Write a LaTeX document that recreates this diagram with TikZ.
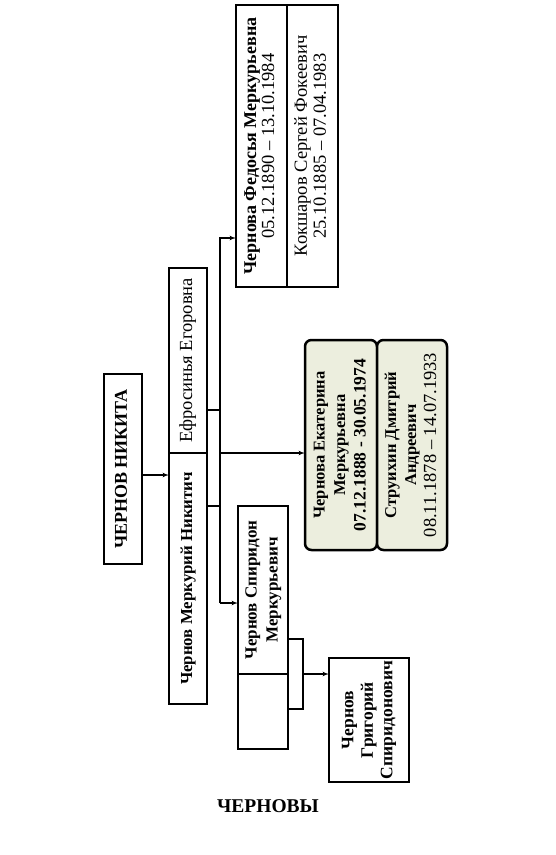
\documentclass[tikz,border=0pt]{standalone}
\usepackage{fontspec}
\setmainfont{Liberation Serif}
\usetikzlibrary{arrows,positioning}

\definecolor{ekfill}{RGB}{236,238,222}
\newcommand{\vtext}[1]{\rotatebox{90}{\begin{tabular}{@{}c@{}}#1\end{tabular}}}
\newcommand{\fs}[2]{\fontsize{#1}{#2}\selectfont}

\tikzset{
  box/.style={draw,line width=1.2pt,inner sep=0pt,outer sep=0pt},
  pair/.style={box,line width=2.5pt,rounded corners=1.4ex,fill=ekfill},
  link/.style={line width=1.2pt},
  arr/.style={link,-latex'},
}

\begin{document}
\begin{tikzpicture}[x=1pt,y=-1pt]
      \useasboundingbox (0,0) rectangle (556,855);

      % head of the family
      \node[box,line width=1.6pt,minimum width=38pt,minimum height=190pt,font=\fs{18}{20}\bfseries] (nikita) at (123,469)
        {\vtext{ЧЕРНОВ НИКИТА}};

      % Merkury and his wife
      \node[box,minimum width=38pt,minimum height=185pt,font=\fs{18.5}{20}] (efros) at (188,360.5)
        {\vtext{Ефросинья Егоровна}};
      \node[box,minimum width=38pt,minimum height=251pt,below=0pt of efros,font=\fs{16.8}{20}\bfseries] (merk)
        {\vtext{Чернов Меркурий Никитич}};

      % children
      \node[box,line width=1.6pt,minimum width=51pt,minimum height=282pt,font=\fs{18}{18}] (fedos) at (261.5,146)
        {\vtext{\bfseries Чернова Федосья Меркурьевна\\\fs{18.5}{18}05.12.1890 – 13.10.1984}};
      \node[box,line width=1.6pt,minimum width=51pt,minimum height=282pt,right=0pt of fedos,font=\fs{18.5}{19}] (koksh)
        {\vtext{Кокшаров Сергей Фокеевич\\25.10.1885 – 07.04.1983}};

      \node[pair,minimum width=72pt,minimum height=210pt,font=\fs{16.5}{20.5}\bfseries] (ekat) at (341,445)
        {\vtext{Чернова Екатерина\\Меркурьевна\\\fs{17.5}{20.5}\bfseries 07.12.1888 - 30.05.1974}};
      \node[pair,minimum width=70pt,minimum height=210pt,right=0pt of ekat,font=\fs{16.5}{20}\bfseries] (strui)
        {\vtext{Струихин Дмитрий\\Андреевич\\\fs{18.5}{20}\mdseries 08.11.1878 – 14.07.1933}};

      \node[box,minimum width=50pt,minimum height=168pt,font=\fs{17}{21}\bfseries] (spir) at (263,590)
        {\vtext{Чернов Спиридон\\Меркурьевич}};
      \node[box,minimum width=50pt,minimum height=75pt,below=0pt of spir] (spirw) {};

      % grandson
      \node[box,minimum width=80pt,minimum height=124pt,font=\fs{17.5}{19.5}\bfseries] (grig) at (369,720)
        {\vtext{Чернов\\Григорий\\Спиридонович}};

      \node[font=\fs{19.5}{22}\bfseries] (title) at (268,806) {ЧЕРНОВЫ};

      % connectors
      \coordinate (efout) at (207,410);
      \coordinate (meout) at (207,506);
      \coordinate (bustop) at (220,238);
      \coordinate (busbot) at (220,603);
      \coordinate (brtop) at (303,639);
      \coordinate (brbot) at (303,709);

      \draw[arr] ([yshift=-6pt]nikita.east) -- ([yshift=-6pt]nikita.east -| merk.west);

      \draw[link] (efout) -- (efout -| bustop);
      \draw[link] (meout) -- (meout -| bustop);
      \draw[arr] (busbot) -- (bustop) -- (bustop -| fedos.west);
      \draw[arr] (efros.south -| bustop) -- (efros.south -| ekat.west);
      \draw[arr] (busbot) -- (busbot -| spir.west);

      \draw[link] (brtop -| spir.east) -- (brtop) -- (brbot) -- (brbot -| spir.east);
      \draw[arr] (spir.south east -| brtop) -- (spir.south east -| grig.west);

\end{tikzpicture}
\end{document}
